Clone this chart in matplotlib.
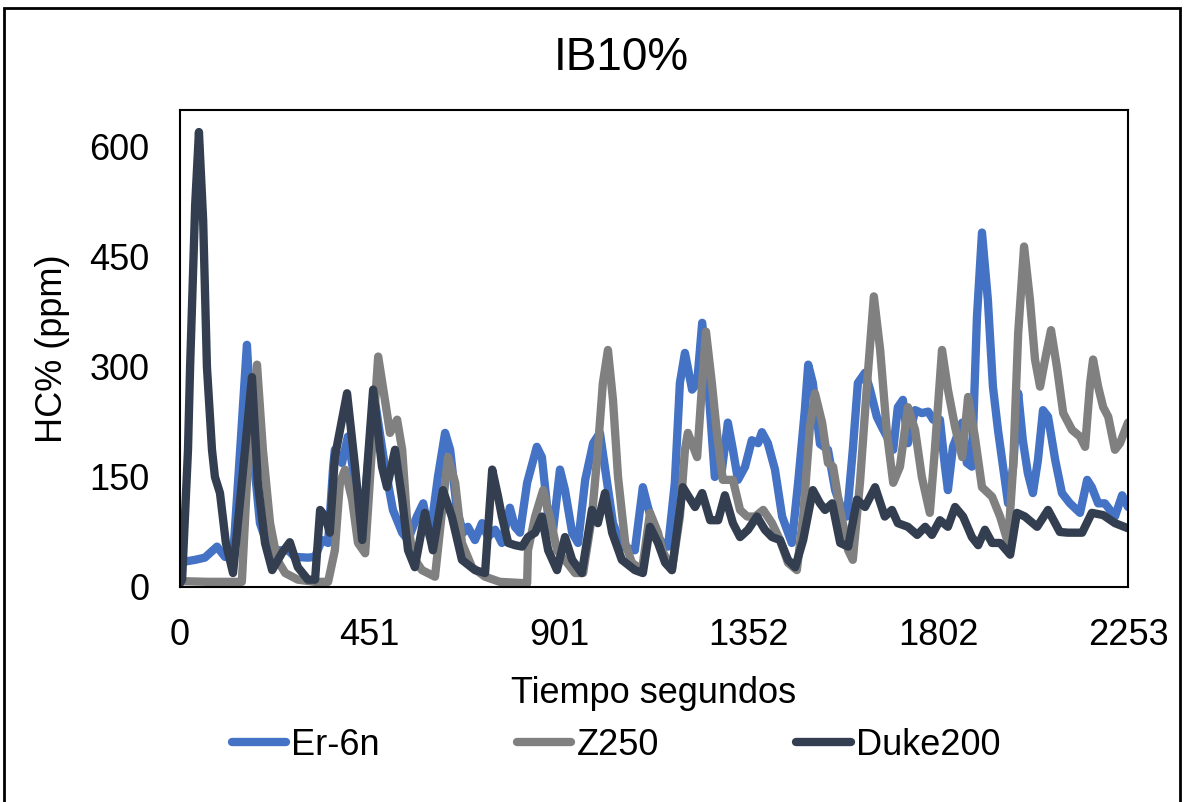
import matplotlib
matplotlib.use("Agg")
import matplotlib.pyplot as plt
from matplotlib.patches import Rectangle

plt.rcParams['font.family'] = ['Liberation Sans', 'DejaVu Sans']

# Er-6n
t_er = [0, 5, 36, 59, 88, 107, 126, 143, 159, 173, 190, 209, 233, 257, 273, 304, 321, 337, 352,
        364, 368, 385, 399, 416, 433, 447, 463, 487, 506, 528, 542, 563, 578, 594, 613, 630, 642,
        658, 673, 684, 701, 718, 732, 749, 765, 784, 796, 808, 825, 848, 860, 875, 886, 903, 915,
        932, 946, 963, 982, 998, 1015, 1029, 1050, 1081, 1100, 1112, 1129, 1146, 1160, 1176, 1188,
        1200, 1217, 1229, 1241, 1255, 1271, 1288, 1302, 1314, 1326, 1343, 1359, 1374, 1383, 1397,
        1414, 1431, 1454, 1469, 1485, 1493, 1504, 1521, 1540, 1557, 1573, 1585, 1599, 1611, 1628,
        1640, 1656, 1668, 1680, 1695, 1706, 1718, 1730, 1747, 1763, 1778, 1790, 1806, 1818, 1825,
        1837, 1859, 1870, 1882, 1894, 1906, 1920, 1932, 1944, 1956, 1968, 1980, 1992, 2003, 2015,
        2027, 2039, 2051, 2063, 2080, 2096, 2115, 2139, 2156, 2167, 2182, 2198, 2222, 2239, 2253]
v_er = [33, 34, 37, 40, 55, 41, 40, 187, 330, 187, 87, 55, 50, 50, 41, 40, 41, 64, 60,
        164, 187, 169, 205, 142, 74, 170, 255, 164, 105, 74, 64, 96, 114, 68, 150, 210, 187,
        105, 74, 82, 64, 87, 68, 78, 60, 108, 82, 74, 142, 191, 177, 96, 74, 160, 132,
        74, 60, 146, 196, 210, 142, 87, 55, 50, 136, 109, 75, 60, 55, 142, 278,
        319, 269, 278, 360, 278, 150, 160, 224, 187, 146, 164, 200, 196, 211, 196,
        160, 96, 60, 142, 241, 303, 278, 195, 187, 132, 105, 96, 187, 278, 292,
        269, 232, 218, 205, 187, 245, 255, 196, 241, 237, 239, 228, 228, 164, 132,
        191, 224, 169, 164, 368, 483, 391, 273, 214, 164, 114, 164, 264, 200, 155,
        128, 173, 241, 232, 173, 128, 114, 101, 146, 136, 114, 114, 96, 125, 109]

# Z250
t_z = [0, 67, 147, 159, 183, 197, 214, 231, 250, 280, 321, 352, 368, 380, 392, 409, 423, 440,
       456, 471, 487, 499, 516, 528, 539, 554, 575, 606, 623, 637, 654, 670, 694, 725, 760, 825,
       827, 844, 863, 879, 896, 920, 939, 958, 979, 993, 1005, 1017, 1029, 1041, 1058, 1074, 1098,
       1117, 1136, 1146, 1169, 1188, 1200, 1207, 1229, 1241, 1250, 1264, 1276, 1290, 1314, 1331,
       1348, 1367, 1386, 1407, 1426, 1445, 1466, 1481, 1497, 1509, 1526, 1540, 1552, 1569, 1588,
       1599, 1616, 1633, 1649, 1664, 1680, 1695, 1711, 1730, 1747, 1763, 1782, 1794, 1811, 1825,
       1842, 1859, 1873, 1889, 1906, 1930, 1949, 1968, 1980, 1992, 2006, 2020, 2032, 2044, 2056,
       2070, 2084, 2099, 2120, 2139, 2151, 2163, 2170, 2182, 2194, 2206, 2222, 2234, 2253]
v_z = [8, 7, 7, 142, 303, 187, 87, 37, 19, 10, 7, 7, 50, 142, 160, 119, 60, 46,
       187, 314, 255, 210, 228, 187, 96, 41, 23, 14, 105, 177, 142, 60, 27, 14, 7, 5,
       50, 96, 132, 96, 50, 33, 19, 19, 96, 187, 278, 323, 255, 150, 60, 33, 23,
       101, 74, 50, 23, 96, 187, 210, 177, 278, 348, 278, 210, 146, 146, 105,
       96, 96, 105, 87, 64, 33, 23, 96, 218, 264, 224, 169, 164, 105, 50,
       37, 142, 278, 396, 323, 210, 142, 164, 245, 214, 150, 101, 187, 323, 269,
       218, 177, 259, 205, 136, 123, 96, 60, 164, 346, 464, 391, 310, 273, 310,
       350, 300, 237, 214, 205, 191, 278, 310, 273, 245, 232, 187, 196, 224]

# Duke200
t_d = [0, 5, 19, 24, 36, 45, 55, 64, 76, 83, 95, 109, 126, 147, 171, 185, 202, 219, 242, 261,
       280, 304, 321, 333, 345, 356, 368, 397, 416, 433, 447, 459, 480, 492, 511, 528, 542, 558,
       582, 601, 625, 646, 670, 701, 725, 742, 756, 765, 780, 796, 813, 827, 844, 860, 875, 896,
       915, 932, 955, 979, 993, 1010, 1027, 1050, 1081, 1100, 1117, 1136, 1153, 1169, 1195, 1224,
       1241, 1260, 1279, 1295, 1314, 1331, 1350, 1371, 1390, 1407, 1426, 1445, 1462, 1481, 1504,
       1521, 1533, 1550, 1569, 1588, 1609, 1628, 1652, 1675, 1692, 1706, 1730, 1752, 1771, 1787,
       1806, 1825, 1842, 1861, 1882, 1897, 1913, 1930, 1949, 1973, 1989, 2008, 2037, 2063, 2091,
       2110, 2144, 2167, 2194, 2222, 2253]
v_d = [5, 10, 187, 300, 520, 620, 500, 300, 187, 150, 128, 60, 19, 142, 286, 142, 60, 23, 46, 61,
       27, 10, 10, 105, 96, 74, 177, 264, 164, 64, 177, 269, 164, 136, 187, 119, 50, 27,
       101, 50, 132, 96, 37, 23, 19, 160, 123, 96, 60, 57, 55, 68, 74, 96, 50, 23,
       68, 37, 19, 105, 87, 128, 74, 37, 23, 19, 82, 60, 33, 23, 136, 109,
       128, 91, 91, 125, 87, 68, 78, 96, 78, 68, 64, 37, 27, 64, 132,
       114, 105, 114, 60, 55, 119, 109, 136, 96, 105, 87, 82, 71, 82, 71,
       91, 82, 109, 96, 68, 57, 78, 60, 60, 44, 101, 96, 82, 105, 75,
       74, 74, 101, 98, 87, 80]

names = ['Er-6n', 'Z250', 'Duke200']
colors = ['#4472C4', '#808080', '#333F50']
x_ticks = [0, 451, 901, 1352, 1802, 2253]
y_ticks = [0, 150, 300, 450, 600]

fig = plt.figure(figsize=(11.85, 8.02), dpi=100)
ax = fig.add_axes([0.1519, 0.2681, 0.80, 0.5947])

for tt, vv, name, c in zip([t_er, t_z, t_d], [v_er, v_z, v_d], names, colors):
    ax.plot(tt, vv, color=c, lw=6, label=name, solid_joinstyle='round', solid_capstyle='round')

ax.set_xlim(0, 2253)
ax.set_ylim(0, 650)
ax.set_xticks(x_ticks)
ax.set_yticks(y_ticks)
ax.tick_params(length=0, labelsize=26)
ax.tick_params(axis='x', pad=22)
ax.tick_params(axis='y', pad=22)
for s in ax.spines.values():
    s.set_color('black')
    s.set_linewidth(1.5)

fig.text(0.524, 0.928, 'IB10%', fontsize=33, ha='center', va='center')
ax.set_xlabel('Tiempo segundos', fontsize=26, labelpad=17)
ax.set_ylabel('HC% (ppm)', fontsize=26, labelpad=14)

fig.legend(loc='center', bbox_to_anchor=(0.52, 0.071), ncol=3, frameon=False,
           fontsize=26, handlelength=1.5, handletextpad=0.15, columnspacing=3.8)

fig.patches.append(Rectangle((0.003, -0.01), 0.993, 1.0, transform=fig.transFigure,
                             fill=False, edgecolor='black', lw=2))

fig.savefig('out.png', dpi=100)
